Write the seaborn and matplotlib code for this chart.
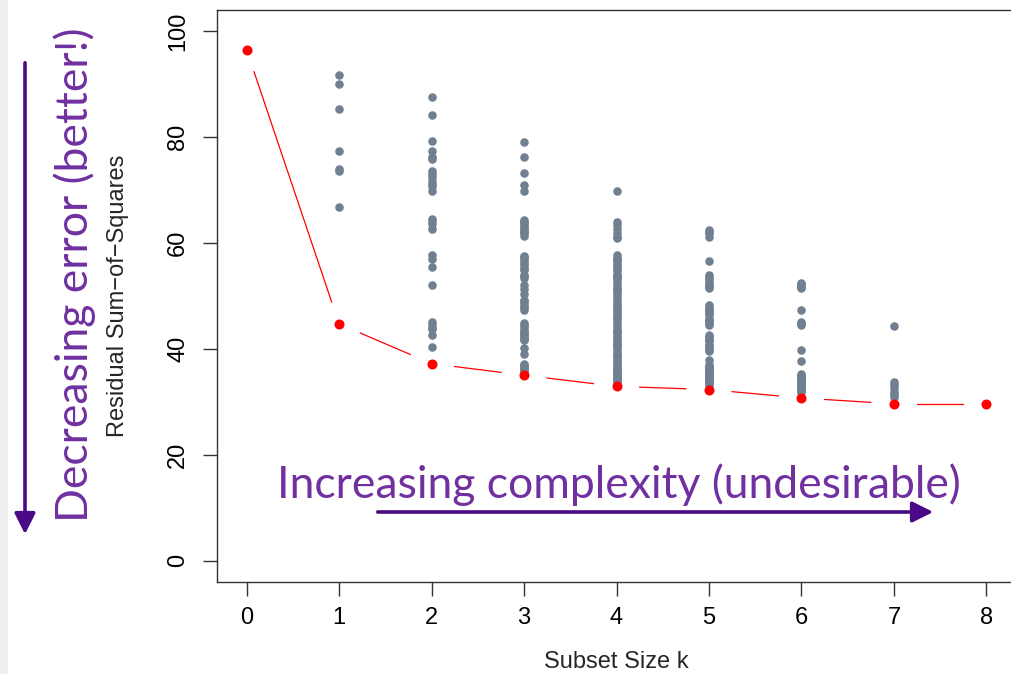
import numpy as np
import pandas as pd
import matplotlib
matplotlib.use("Agg")
import matplotlib.pyplot as plt
import seaborn as sns
from matplotlib.patches import Rectangle

# ---------------- data ----------------
subset_sizes = [0, 1, 2, 3, 4, 5, 6, 7, 8]
best_rss = [96.5, 44.7, 37.2, 35.0, 32.9, 32.3, 30.7, 29.6, 29.6]

rss_k1 = [91.7, 90.0, 85.3, 77.4, 73.9, 73.5, 66.8]
rss_k2 = [87.6, 84.2, 79.3, 77.4, 76.3, 75.8, 73.6, 73.0, 72.5, 71.7, 71.2, 70.8,
          69.9, 64.6, 64.1, 63.6, 62.6, 57.8, 57.0, 55.4, 52.0, 45.1, 44.5, 44.0,
          43.7, 42.6, 40.3]
rss_k3 = [79.1, 76.2, 73.2, 71.0, 69.9,
          64.4, 63.8, 63.2, 62.6, 62.0, 61.4,
          57.6, 57.0, 56.4, 55.5, 54.8, 54.0, 53.4, 52.0, 51.2, 50.3, 49.2, 48.6, 48.0, 47.4,
          44.8, 44.2, 43.6, 43.0, 42.5, 42.0, 41.6, 40.2, 39.1, 37.2, 36.7, 36.2, 35.8,
          64.0, 63.0, 62.3, 61.8, 57.3, 56.0, 55.0, 53.7, 49.0, 47.8, 44.5, 43.3, 42.8,
          41.8, 37.0, 36.5, 36.0]
rss_k4 = [69.8, 64.0, 63.3, 62.6, 61.9, 61.2, 60.9,
          57.7, 57.2, 56.6, 56.1, 55.5, 55.0, 54.6, 54.0, 53.5, 53.1, 52.6, 52.0, 51.5,
          51.1, 50.4, 49.8, 49.3, 48.9, 48.3, 47.6, 47.2, 46.7, 46.1, 45.6, 45.2, 44.7,
          44.1, 43.6, 43.0, 42.5, 42.1, 41.6, 41.0, 40.5, 40.1, 39.6, 39.0, 38.5, 38.2,
          37.7, 37.2, 36.8, 36.3, 35.9, 35.5, 35.1, 34.7, 34.3, 34.0,
          56.9, 53.8, 50.9, 48.0, 45.9, 43.3, 40.8, 38.8, 37.4, 36.0, 35.3, 34.5, 33.9]
rss_k5 = [62.4, 61.8, 61.2, 56.6, 53.9, 53.2, 52.6, 52.0, 51.4,
          48.3, 47.6, 47.0, 46.4, 45.7, 45.1, 44.5, 42.6, 42.0, 41.4, 40.8, 40.1, 39.5,
          37.9, 36.9, 36.5, 36.1, 35.7, 35.3, 34.9, 34.5, 34.1, 33.7, 33.3, 33.1,
          62.0, 53.5, 52.3, 51.7, 47.9, 47.3, 46.7, 45.4, 44.8, 42.3, 41.7, 40.5, 39.8,
          36.7, 36.3, 35.9, 35.5, 35.1, 34.7, 34.3, 33.9]
rss_k6 = [52.4, 52.0, 51.4, 47.3, 45.1, 44.5, 39.8, 37.7, 35.3, 34.9, 34.5, 34.1,
          33.7, 33.3, 32.9, 32.5, 32.1, 31.9, 52.2, 51.7, 44.8, 35.1, 34.7, 34.3,
          33.5, 33.0, 32.3]
rss_k7 = [44.3, 33.8, 33.2, 32.5, 31.9, 31.4, 30.9]

x_ticks = [0, 1, 2, 3, 4, 5, 6, 7, 8]
y_ticks = [0, 20, 40, 60, 80, 100]

all_models = {1: rss_k1, 2: rss_k2, 3: rss_k3, 4: rss_k4, 5: rss_k5, 6: rss_k6, 7: rss_k7}
gray_df = pd.DataFrame([(k, v) for k, vals in all_models.items() for v in vals],
                       columns=["k", "rss"])
best_df = pd.DataFrame({"k": subset_sizes, "rss": best_rss})

# ---------------- style ----------------
sns.set_style("ticks")
plt.rcParams["font.family"] = ["Liberation Sans", "DejaVu Sans"]

W, H = 1011, 674
fig = plt.figure(figsize=(W / 100, H / 100), dpi=100)
fig.patches.append(Rectangle((0, 0), 8 / W, 1, transform=fig.transFigure,
                             facecolor="#efefef", edgecolor="none", zorder=0))

ax = fig.add_axes([217 / W, 1 - 581.7 / H, 799 / W, 571.7 / H])

sns.scatterplot(data=gray_df, x="k", y="rss", color="#718090", s=38,
                linewidth=0, ax=ax, zorder=2)
sns.scatterplot(data=best_df, x="k", y="rss", color="#ff0000", s=52,
                linewidth=0, ax=ax, zorder=3)

ax.set_xlim(-0.32, 8.32)
ax.set_ylim(-4, 104)
ax.set_xticks(x_ticks)
ax.set_yticks(y_ticks)
ax.set_xticklabels([str(t) for t in x_ticks])
ax.set_yticklabels([str(t) for t in y_ticks])

for s in ax.spines.values():
    s.set_color("#333333")
    s.set_linewidth(1.0)
ax.tick_params(axis="both", length=10, width=1.0, color="#333333",
               labelsize=17, labelcolor="black")
ax.tick_params(axis="x", pad=8)
ax.tick_params(axis="y", labelrotation=90, pad=10)
for lab in ax.get_yticklabels():
    lab.set_va("center")

ax.set_xlabel("Subset Size k", fontsize=17)
ax.set_ylabel("Residual Sum\u2212of\u2212Squares", fontsize=17)
ax.xaxis.set_label_coords(0.5, (581.7 - 662) / 571.7)
ax.yaxis.set_label_coords((118 - 217) / 799, 0.5)
ax.xaxis.label.set_va("center")
ax.yaxis.label.set_va("center")

# red connecting line with gaps around the points (R type="b")
fig.canvas.draw()
pts = ax.transData.transform(np.column_stack([subset_sizes, best_rss]))
inv = ax.transData.inverted()
gap = 23
for p, q in zip(pts[:-1], pts[1:]):
    d = q - p
    L = np.hypot(*d)
    if L > 2 * gap:
        u = d / L
        a = inv.transform(p + u * gap)
        b = inv.transform(q - u * gap)
        ax.plot([a[0], b[0]], [a[1], b[1]], color="#ff0000", lw=0.9, zorder=1)

# annotations
text_purple = "#7030a0"
arrow_purple = "#4b0a85"

def fx(px):
    return px / W

def fy(py):
    return 1 - py / H

fig.text(fx(75), fy(275), "Decreasing error (better!)", rotation=90,
         ha="center", va="center", color=text_purple, fontsize=32,
         family=["Lato", "DejaVu Sans"])
fig.text(fx(619), fy(485), "Increasing complexity (undesirable)",
         ha="center", va="center", color=text_purple, fontsize=32,
         family=["Lato", "DejaVu Sans"])

fig.add_artist(matplotlib.patches.FancyArrowPatch(
    (fx(25), fy(60)), (fx(25), fy(537)), transform=fig.transFigure,
    arrowstyle="-|>,head_length=0.9,head_width=0.45", mutation_scale=14,
    color=arrow_purple, lw=2.6))
fig.add_artist(matplotlib.patches.FancyArrowPatch(
    (fx(375), fy(512)), (fx(936), fy(512)), transform=fig.transFigure,
    arrowstyle="-|>,head_length=0.9,head_width=0.45", mutation_scale=14,
    color=arrow_purple, lw=2.6))

fig.savefig("out.png", dpi=100)
